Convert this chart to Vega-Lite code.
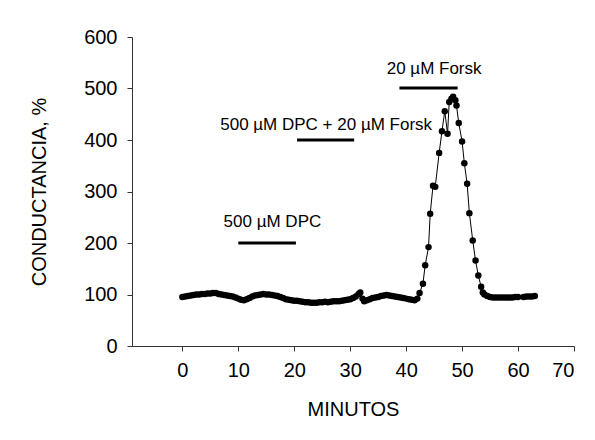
{
  "$schema": "https://vega.github.io/schema/vega-lite/v6.json",
  "width": 442,
  "height": 309,
  "autosize": {"type": "none"},
  "padding": {"left": 132, "top": 37, "right": 21, "bottom": 94},
  "background": "white",
  "config": {
    "view": {"stroke": null},
    "font": "Liberation Sans",
    "axis": {
      "grid": false,
      "domainColor": "#333333",
      "tickColor": "#333333",
      "labelColor": "#000000",
      "titleColor": "#000000",
      "labelFont": "Liberation Sans",
      "titleFont": "Liberation Sans",
      "labelFontSize": 20,
      "titleFontSize": 20,
      "titleFontWeight": "normal",
      "tickSize": 5,
      "domainWidth": 1,
      "tickWidth": 1
    }
  },
  "datasets": {
    "series": [
      {"min": 0, "cond": 95}, {"min": 0.5, "cond": 96}, {"min": 1, "cond": 97}, {"min": 1.5, "cond": 98},
      {"min": 2, "cond": 99}, {"min": 2.5, "cond": 100}, {"min": 3, "cond": 100}, {"min": 3.5, "cond": 101},
      {"min": 4, "cond": 101}, {"min": 4.5, "cond": 102}, {"min": 5, "cond": 102}, {"min": 5.5, "cond": 103},
      {"min": 6, "cond": 103}, {"min": 6.5, "cond": 101}, {"min": 7, "cond": 100}, {"min": 7.5, "cond": 99},
      {"min": 8, "cond": 98}, {"min": 8.5, "cond": 97}, {"min": 9, "cond": 96}, {"min": 9.5, "cond": 94},
      {"min": 10, "cond": 92}, {"min": 10.5, "cond": 90}, {"min": 11, "cond": 89}, {"min": 11.5, "cond": 91},
      {"min": 12, "cond": 93}, {"min": 12.5, "cond": 96}, {"min": 13, "cond": 98}, {"min": 13.5, "cond": 99},
      {"min": 14, "cond": 100}, {"min": 14.5, "cond": 101}, {"min": 15, "cond": 100}, {"min": 15.5, "cond": 100},
      {"min": 16, "cond": 99}, {"min": 16.5, "cond": 98}, {"min": 17, "cond": 97}, {"min": 17.5, "cond": 95},
      {"min": 18, "cond": 93}, {"min": 18.5, "cond": 91}, {"min": 19, "cond": 90}, {"min": 19.5, "cond": 89},
      {"min": 20, "cond": 88}, {"min": 20.5, "cond": 88}, {"min": 21, "cond": 87}, {"min": 21.5, "cond": 86},
      {"min": 22, "cond": 85}, {"min": 22.5, "cond": 85}, {"min": 23, "cond": 84}, {"min": 23.5, "cond": 84},
      {"min": 24, "cond": 84}, {"min": 24.5, "cond": 85}, {"min": 25, "cond": 85}, {"min": 25.5, "cond": 86},
      {"min": 26, "cond": 85}, {"min": 26.5, "cond": 86}, {"min": 27, "cond": 87}, {"min": 27.5, "cond": 87},
      {"min": 28, "cond": 87}, {"min": 28.5, "cond": 88}, {"min": 29, "cond": 89}, {"min": 29.5, "cond": 90},
      {"min": 30, "cond": 91}, {"min": 30.5, "cond": 93}, {"min": 31, "cond": 96}, {"min": 31.5, "cond": 101},
      {"min": 31.8, "cond": 104}, {"min": 32.2, "cond": 92}, {"min": 32.5, "cond": 87}, {"min": 33, "cond": 89},
      {"min": 33.5, "cond": 91}, {"min": 34, "cond": 93}, {"min": 34.5, "cond": 94}, {"min": 35, "cond": 95},
      {"min": 35.5, "cond": 97}, {"min": 36, "cond": 98}, {"min": 36.5, "cond": 99}, {"min": 37, "cond": 98},
      {"min": 37.5, "cond": 97}, {"min": 38, "cond": 96}, {"min": 38.5, "cond": 95}, {"min": 39, "cond": 94},
      {"min": 39.5, "cond": 93}, {"min": 40, "cond": 92}, {"min": 40.5, "cond": 91}, {"min": 41, "cond": 90},
      {"min": 41.5, "cond": 89}, {"min": 42, "cond": 92}, {"min": 42.4, "cond": 103}, {"min": 43.0, "cond": 121},
      {"min": 43.4, "cond": 157}, {"min": 44.0, "cond": 192}, {"min": 44.3, "cond": 257}, {"min": 44.8, "cond": 311},
      {"min": 45.2, "cond": 309}, {"min": 45.9, "cond": 375}, {"min": 46.4, "cond": 417}, {"min": 46.9, "cond": 456},
      {"min": 47.4, "cond": 412}, {"min": 47.7, "cond": 474}, {"min": 48.1, "cond": 480}, {"min": 48.4, "cond": 484},
      {"min": 48.8, "cond": 477}, {"min": 49.0, "cond": 467}, {"min": 49.4, "cond": 433}, {"min": 50.0, "cond": 397},
      {"min": 50.4, "cond": 355}, {"min": 50.9, "cond": 315}, {"min": 51.3, "cond": 258}, {"min": 51.9, "cond": 205},
      {"min": 52.4, "cond": 166}, {"min": 52.9, "cond": 137}, {"min": 53.4, "cond": 115}, {"min": 53.7, "cond": 104},
      {"min": 54.0, "cond": 100}, {"min": 54.5, "cond": 97}, {"min": 55, "cond": 95}, {"min": 55.5, "cond": 94},
      {"min": 56, "cond": 94}, {"min": 56.5, "cond": 94}, {"min": 57, "cond": 94}, {"min": 57.5, "cond": 94},
      {"min": 58, "cond": 94}, {"min": 58.5, "cond": 94}, {"min": 59, "cond": 94}, {"min": 59.5, "cond": 95},
      {"min": 60, "cond": 95}, {"min": 61, "cond": 95}, {"min": 61.5, "cond": 96}, {"min": 62, "cond": 96},
      {"min": 62.5, "cond": 96}, {"min": 63, "cond": 97}
    ],
    "bars": [
      {"x1": 10, "x2": 20.3, "y": 200},
      {"x1": 20.5, "x2": 30.7, "y": 400},
      {"x1": 38.8, "x2": 49.2, "y": 501}
    ],
    "labels": [
      {"x": 16.1, "y": 240, "label": "500 µM DPC"},
      {"x": 25.7, "y": 430, "label": "500 µM DPC + 20 µM Forsk"},
      {"x": 45.0, "y": 537, "label": "20 µM Forsk"}
    ]
  },
  "layer": [
    {
      "data": {"name": "series"},
      "mark": {"type": "line", "color": "#000000", "strokeWidth": 1},
      "encoding": {
        "x": {
          "field": "min", "type": "quantitative",
          "scale": {"domain": [-9, 70], "nice": false, "zero": false},
          "axis": {"values": [0, 10, 20, 30, 40, 50, 60, 70], "title": "MINUTOS", "labelPadding": 9, "titlePadding": 19}
        },
        "y": {
          "field": "cond", "type": "quantitative",
          "scale": {"domain": [0, 600], "nice": false},
          "axis": {"values": [0, 100, 200, 300, 400, 500, 600], "title": "CONDUCTANCIA, %", "labelPadding": 10, "titlePadding": 34}
        }
      }
    },
    {
      "data": {"name": "series"},
      "mark": {"type": "point", "filled": true, "color": "#000000", "opacity": 1, "size": 42, "shape": "circle"},
      "encoding": {
        "x": {"field": "min", "type": "quantitative"},
        "y": {"field": "cond", "type": "quantitative"}
      }
    },
    {
      "data": {"name": "bars"},
      "mark": {"type": "rule", "color": "#000000", "strokeWidth": 3},
      "encoding": {
        "x": {"field": "x1", "type": "quantitative"},
        "x2": {"field": "x2"},
        "y": {"field": "y", "type": "quantitative"}
      }
    },
    {
      "data": {"name": "labels"},
      "mark": {"type": "text", "font": "Liberation Sans", "fontSize": 17, "color": "#000000", "baseline": "middle", "align": "center"},
      "encoding": {
        "x": {"field": "x", "type": "quantitative"},
        "y": {"field": "y", "type": "quantitative"},
        "text": {"field": "label"}
      }
    }
  ]
}
